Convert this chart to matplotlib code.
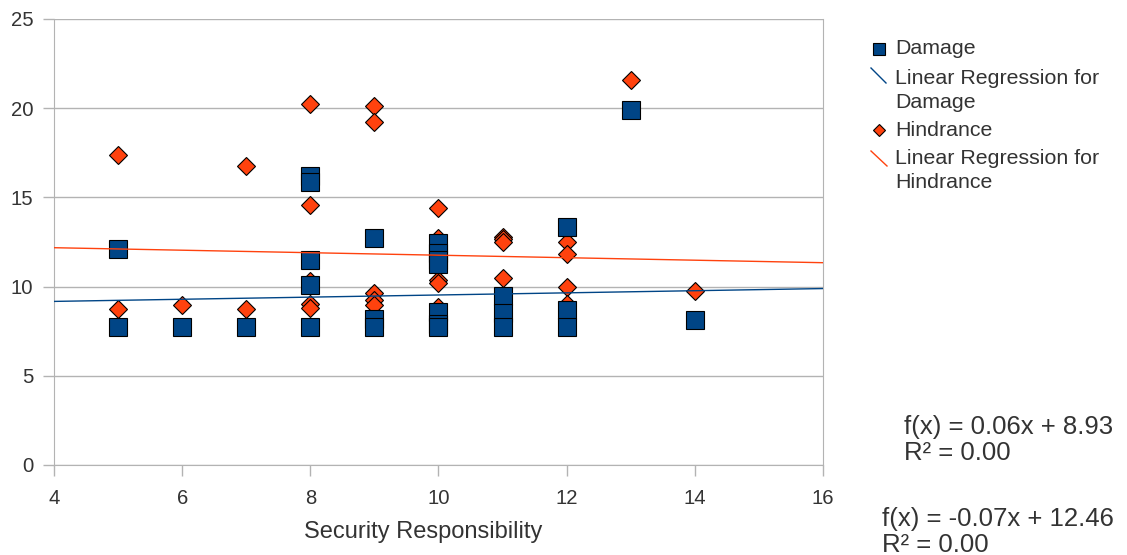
import matplotlib
matplotlib.use("Agg")
import matplotlib.pyplot as plt
from matplotlib.lines import Line2D
import numpy as np

plt.rcParams['font.family'] = ['Liberation Sans', 'DejaVu Sans']

# data
damage_x = [5, 5, 6, 7, 8, 8, 8, 8, 8, 9, 9, 9, 10, 10, 10, 10, 10, 10, 10,
            11, 11, 11, 12, 12, 12, 13, 14]
damage_y = [12.1, 7.74, 7.74, 7.74, 16.2, 15.85, 11.5, 10.1, 7.74, 12.75, 8.2, 7.74,
            12.45, 11.9, 11.5, 11.25, 8.6, 7.9, 7.74, 9.5, 8.5, 7.74, 13.35, 8.7, 7.74,
            19.9, 8.12]

hindrance_x = [5, 5, 6, 7, 7, 8, 8, 8, 8, 8, 9, 9, 9, 9, 9, 10, 10, 10, 10, 10,
               11, 11, 11, 11, 12, 12, 12, 12, 13, 14]
hindrance_y = [17.4, 8.75, 8.97, 16.75, 8.73, 20.25, 14.6, 10.3, 9.0, 8.8,
               20.15, 19.2, 9.62, 9.25, 8.95, 14.4, 12.75, 10.35, 10.2, 8.85,
               12.8, 12.65, 12.5, 10.5, 12.5, 11.85, 10.0, 9.0, 21.6, 9.75]

# regression coefficients shown on the chart
damage_fit = (0.06, 8.93)
hindrance_fit = (-0.07, 12.46)
fit_labels = ["f(x) = 0.06x + 8.93\nR² = 0.00", "f(x) = -0.07x + 12.46\nR² = 0.00"]

BLUE = "#004586"
ORANGE = "#ff420e"
GRID = "#b3b3b3"
TXT = "#333333"

W, H = 1127, 555
fig = plt.figure(figsize=(W / 100, H / 100), dpi=100)
ax = fig.add_axes([54 / W, 1 - 465 / H, (823 - 54) / W, (465 - 19) / H])

ax.plot(hindrance_x, hindrance_y, 'D', ms=9.6, mfc=ORANGE, mec='black', mew=0.8, zorder=3)
ax.plot(damage_x, damage_y, 's', ms=13.6, mfc=BLUE, mec='black', mew=0.8, zorder=4)

xs = np.array([4, 16])
ax.plot(xs, damage_fit[0] * xs + damage_fit[1], color=BLUE, lw=1, zorder=5)
ax.plot(xs, hindrance_fit[0] * xs + hindrance_fit[1], color=ORANGE, lw=1, zorder=5)

ax.set_xlim(4, 16)
ax.set_ylim(0, 25)
ax.set_xticks(range(4, 17, 2))
ax.set_yticks(range(0, 26, 5))
ax.yaxis.grid(True, color=GRID, lw=1)
ax.set_axisbelow(True)
ax.spines['top'].set_visible(False)
for s in ['left', 'right', 'bottom']:
    ax.spines[s].set_color(GRID)
ax.tick_params(axis='both', colors=GRID, labelcolor=TXT, labelsize=14.6, length=8, width=1)
ax.tick_params(axis='x', pad=9)
ax.tick_params(axis='y', pad=7)

ax.set_xlabel("Security Responsibility", fontsize=17, color=TXT)
ax.xaxis.set_label_coords((423 - 54) / (823 - 54), -(521 - 465) / (465 - 19))

# legend drawn by hand
def fx(px):
    return px / W

def fy(py):
    return 1 - py / H

fig.add_artist(Line2D([fx(879)], [fy(49)], marker='s', ms=9, mfc=BLUE, mec='black', mew=0.8))
fig.add_artist(Line2D([fx(871), fx(886)], [fy(68), fy(83)], color=BLUE, lw=1))
fig.add_artist(Line2D([fx(879)], [fy(130)], marker='D', ms=6.5, mfc=ORANGE, mec='black', mew=0.8))
fig.add_artist(Line2D([fx(871), fx(887)], [fy(151), fy(166)], color=ORANGE, lw=1))

legend_items = [("Damage", 49), ("Linear Regression for", 78), ("Damage", 102),
                ("Hindrance", 130), ("Linear Regression for", 159), ("Hindrance", 183)]
for txt, py in legend_items:
    fig.text(fx(895), fy(py), txt, fontsize=15.4, color=TXT, va='center', ha='left')

fig.text(fx(904), fy(440), fit_labels[0], fontsize=18.5, color=TXT, va='center', ha='left',
         linespacing=1.15)
fig.text(fx(882), fy(532), fit_labels[1], fontsize=18.5, color=TXT, va='center', ha='left',
         linespacing=1.15)

fig.savefig("out.png", dpi=100)
